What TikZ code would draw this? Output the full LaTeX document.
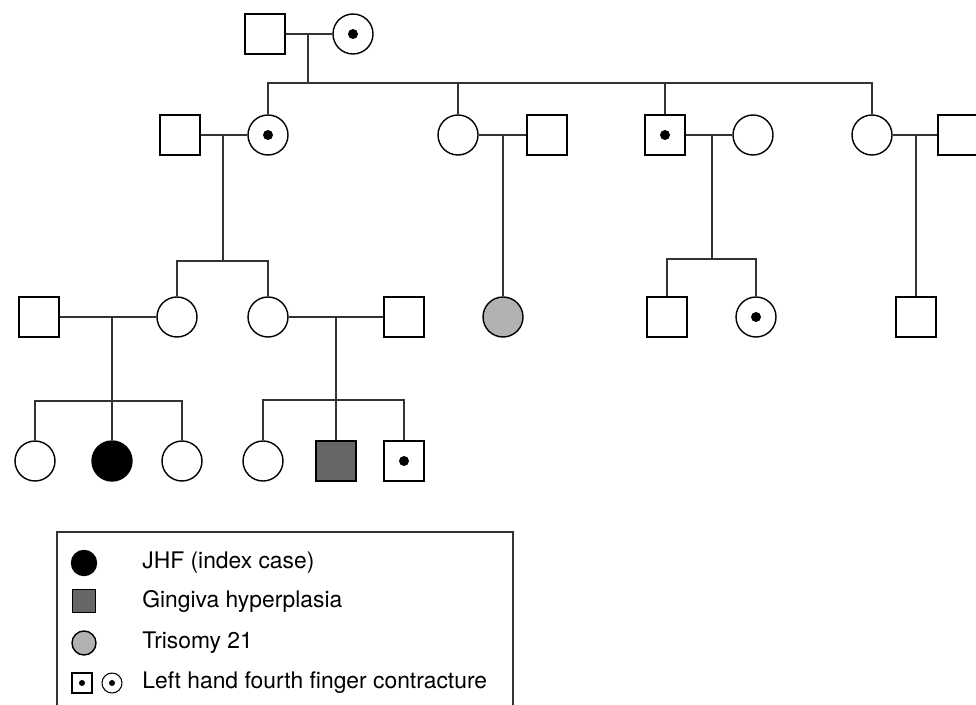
\documentclass[tikz,border=0pt]{standalone}
\usepackage{fontspec}
\setmainfont{TeX Gyre Heros}
\begin{document}
\begin{tikzpicture}[x=0.2mm,y=-0.2mm,
    male/.style={draw,rectangle,minimum size=8mm,inner sep=0pt,line width=0.8pt,fill=white},
    female/.style={draw,circle,minimum size=8mm,inner sep=0pt,line width=0.8pt,fill=white},
    marked/.style={path picture={\fill[black] (path picture bounding box.center) circle (#1);}},
    marked/.default=1mm,
    line/.style={line width=0.6pt,black!80},
    keytext/.style={anchor=west,inner sep=0pt,font=\fontsize{13}{15}\selectfont}]
    \useasboundingbox (0,0) rectangle (976,704);
    \clip (0,0) rectangle (976,704);

    % Generation I
    \node[male] (gpa) at (265,34) {};
    \node[female,marked] (gma) at (353,34) {};

    % Generation II
    \node[male] (husA) at (180,135) {};
    \node[female,marked] (dauA) at (268,135) {};
    \node[female] (dauB) at (458,135) {};
    \node[male] (husB) at (547,135) {};
    \node[male,marked] (sonC) at (665,135) {};
    \node[female] (wifC) at (753,135) {};
    \node[female] (dauD) at (872,135) {};
    \node[male] (husD) at (958,135) {};

    % Generation III
    \node[male] (husE) at (39,317) {};
    \node[female] (dauE) at (177,317) {};
    \node[female] (dauF) at (268,317) {};
    \node[male] (husF) at (404,317) {};
    \node[female,fill=black!30] (triso) at (503,317) {};
    \node[male] (sonG) at (667,317) {};
    \node[female,marked] (dauG) at (756,317) {};
    \node[male] (sonH) at (916,317) {};

    % Generation IV
    \node[female] (kidE1) at (35,461) {};
    \node[female,fill=black] (index) at (112,461) {};
    \node[female] (kidE3) at (182,461) {};
    \node[female] (kidF1) at (263,461) {};
    \node[male,fill=black!60] (gingi) at (336,461) {};
    \node[male,marked] (kidF3) at (404,461) {};

    % Marriage lines and descent
    \draw[line] (gpa.east) -- (gma.west);
    \draw[line] (308,34) -- (308,83);
    \draw[line] (dauA.north) |- (dauD.north |- 0,83) -- (dauD.north);
    \draw[line] (dauB.north) -- (dauB.north |- 0,83);
    \draw[line] (sonC.north) -- (sonC.north |- 0,83);

    \draw[line] (husA.east) -- (dauA.west);
    \draw[line] (223,135) -- (223,261);
    \draw[line] (dauE.north) |- (dauF.north |- 0,261) -- (dauF.north);

    \draw[line] (dauB.east) -- (husB.west);
    \draw[line] (triso.north |- dauB.east) -- (triso.north);

    \draw[line] (sonC.east) -- (wifC.west);
    \draw[line] (712,135) -- (712,259);
    \draw[line] (sonG.north) |- (dauG.north |- 0,259) -- (dauG.north);

    \draw[line] (dauD.east) -- (husD.west);
    \draw[line] (sonH.north |- dauD.east) -- (sonH.north);

    \draw[line] (husE.east) -- (dauE.west);
    \draw[line] (index.north |- husE.east) -- (index.north);
    \draw[line] (kidE1.north) |- (kidE3.north |- 0,401) -- (kidE3.north);

    \draw[line] (dauF.east) -- (husF.west);
    \draw[line] (gingi.north |- dauF.east) -- (gingi.north);
    \draw[line] (kidF1.north) |- (kidF3.north |- 0,400) -- (kidF3.north);

    % Key
    \draw[line] (57,532) rectangle (513,720);
    \node[female,fill=black,minimum size=5mm] (keyjhf) at (84,563) {};
    \node[male,fill=black!60,minimum size=4.6mm] (keyging) at (84,601) {};
    \node[female,fill=black!30,minimum size=4.8mm] (keytri) at (84,643) {};
    \node[male,marked=0.6mm,minimum size=4mm,line width=0.6pt] (keymale) at (82,683) {};
    \node[female,marked=0.6mm,minimum size=4mm,line width=0.6pt] (keyfemale) at (112,683) {};
    \node[keytext] (lbljhf) at (142,563) {JHF (index case)};
    \node[keytext] (lblging) at (142,601) {Gingiva hyperplasia};
    \node[keytext] (lbltri) at (142,643) {Trisomy 21};
    \node[keytext] (lblcontr) at (142,683) {Left hand fourth finger contracture};
\end{tikzpicture}
\end{document}
